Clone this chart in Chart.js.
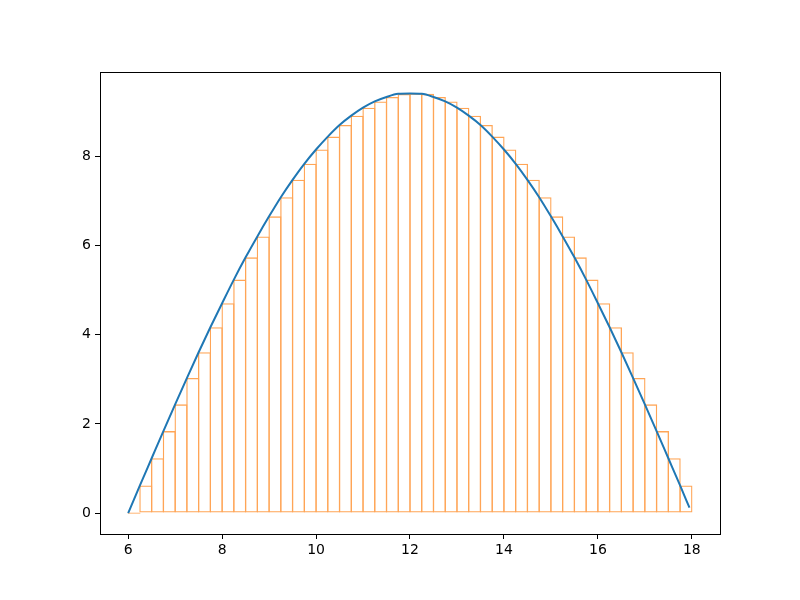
<!DOCTYPE html>
<html>
<head>
<meta charset="utf-8">
<script src="https://cdn.jsdelivr.net/npm/chart.js@4"></script>
<style>
  body { margin: 0; background: #fff; }
  canvas { display: block; }
</style>
</head>
<body>
<canvas id="chart" width="800" height="600"></canvas>
<script>
const xTicks = [6, 8, 10, 12, 14, 16, 18];
const yTicks = [0, 2, 4, 6, 8];

// left edges of the rectangles, each one barWidth wide
const barLeft = [6, 6.25, 6.5, 6.75, 7, 7.25, 7.5, 7.75, 8, 8.25, 8.5, 8.75,
  9, 9.25, 9.5, 9.75, 10, 10.25, 10.5, 10.75, 11, 11.25, 11.5, 11.75,
  12, 12.25, 12.5, 12.75, 13, 13.25, 13.5, 13.75, 14, 14.25, 14.5, 14.75,
  15, 15.25, 15.5, 15.75, 16, 16.25, 16.5, 16.75, 17, 17.25, 17.5, 17.75];
const barWidth = 0.25;
const barHeight = [0, 0.62, 1.23, 1.84, 2.44, 3.03, 3.61, 4.17, 4.71, 5.24, 5.74, 6.21,
  6.66, 7.09, 7.48, 7.84, 8.16, 8.45, 8.71, 8.92, 9.10, 9.24, 9.34, 9.41,
  9.42, 9.41, 9.34, 9.24, 9.10, 8.92, 8.71, 8.45, 8.16, 7.84, 7.48, 7.09,
  6.66, 6.21, 5.74, 5.24, 4.71, 4.17, 3.61, 3.03, 2.44, 1.84, 1.23, 0.62];

const curveX = [6, 6.25, 6.5, 6.75, 7, 7.25, 7.5, 7.75, 8, 8.25, 8.5, 8.75,
  9, 9.25, 9.5, 9.75, 10, 10.25, 10.5, 10.75, 11, 11.25, 11.5, 11.75,
  12, 12.25, 12.5, 12.75, 13, 13.25, 13.5, 13.75, 14, 14.25, 14.5, 14.75,
  15, 15.25, 15.5, 15.75, 16, 16.25, 16.5, 16.75, 17, 17.25, 17.5, 17.75, 17.95];
const curveY = [0, 0.62, 1.23, 1.84, 2.44, 3.03, 3.61, 4.17, 4.71, 5.24, 5.74, 6.21,
  6.66, 7.09, 7.48, 7.84, 8.16, 8.45, 8.71, 8.92, 9.10, 9.24, 9.34, 9.41,
  9.42, 9.41, 9.34, 9.24, 9.10, 8.92, 8.71, 8.45, 8.16, 7.84, 7.48, 7.09,
  6.66, 6.21, 5.74, 5.24, 4.71, 4.17, 3.61, 3.03, 2.44, 1.84, 1.23, 0.62, 0.12];


Chart.defaults.font.family = 'DejaVu Sans';
Chart.defaults.font.size = 14;
Chart.defaults.color = '#000';

// full box round the plot area, like matplotlib spines
const frame = {
  id: 'frame',
  afterDatasetsDraw(chart) {
    const a = chart.chartArea;
    const ctx = chart.ctx;
    ctx.save();
    ctx.strokeStyle = '#000';
    ctx.lineWidth = 1;
    ctx.strokeRect(Math.round(a.left) + 0.5, Math.round(a.top) + 0.5,
      Math.round(a.right - a.left), Math.round(a.bottom - a.top));
    ctx.restore();
  }
};

function init() {
  var curve = [];
  for (var i = 0; i < curveX.length; i++) {
    curve.push({ x: curveX[i], y: curveY[i] });
  }
  var bars = [];
  for (var j = 0; j < barLeft.length; j++) {
    bars.push({ x: barLeft[j] + barWidth / 2, y: barHeight[j] });
  }

  new Chart(document.getElementById('chart'), {
    type: 'bar',
    data: {
      datasets: [
        {
          type: 'line',
          data: curve,
          borderColor: '#1f77b4',
          borderWidth: 2,
          pointRadius: 0,
          fill: false,
          cubicInterpolationMode: 'monotone',
          order: 0
        },
        {
          type: 'bar',
          data: bars,
          backgroundColor: 'rgba(0,0,0,0)',
          borderColor: '#ffa556',
          borderWidth: 1.3,
          borderSkipped: false,
          minBarLength: 1.3,
          categoryPercentage: 1,
          // widen a little so neighbouring edges share one line
          barPercentage: 1.11,
          order: 1
        }
      ]
    },
    options: {
      responsive: false,
      animation: false,
      devicePixelRatio: 1,
      layout: { padding: { left: 0, top: 72, right: 80, bottom: 0 } },
      plugins: {
        legend: { display: false },
        tooltip: { enabled: false }
      },
      scales: {
        x: {
          type: 'linear',
          min: 5.4,
          max: 18.6,
          offset: false,
          afterBuildTicks: axis => { axis.ticks = xTicks.map(v => ({ value: v })); },
          afterFit: axis => { axis.height = 66; },
          ticks: { padding: 3, maxRotation: 0 },
          grid: { offset: false, drawOnChartArea: false, tickLength: 5, tickColor: '#000' },
          border: { color: '#000' }
        },
        y: {
          type: 'linear',
          min: -0.47,
          max: 9.9,
          afterBuildTicks: axis => { axis.ticks = yTicks.map(v => ({ value: v })); },
          afterFit: axis => { axis.width = 100; },
          ticks: { padding: 4 },
          grid: { drawOnChartArea: false, tickLength: 5, tickColor: '#000' },
          border: { color: '#000' }
        }
      }
    },
    plugins: [frame]
  });
}

init();
</script>
</body>
</html>
